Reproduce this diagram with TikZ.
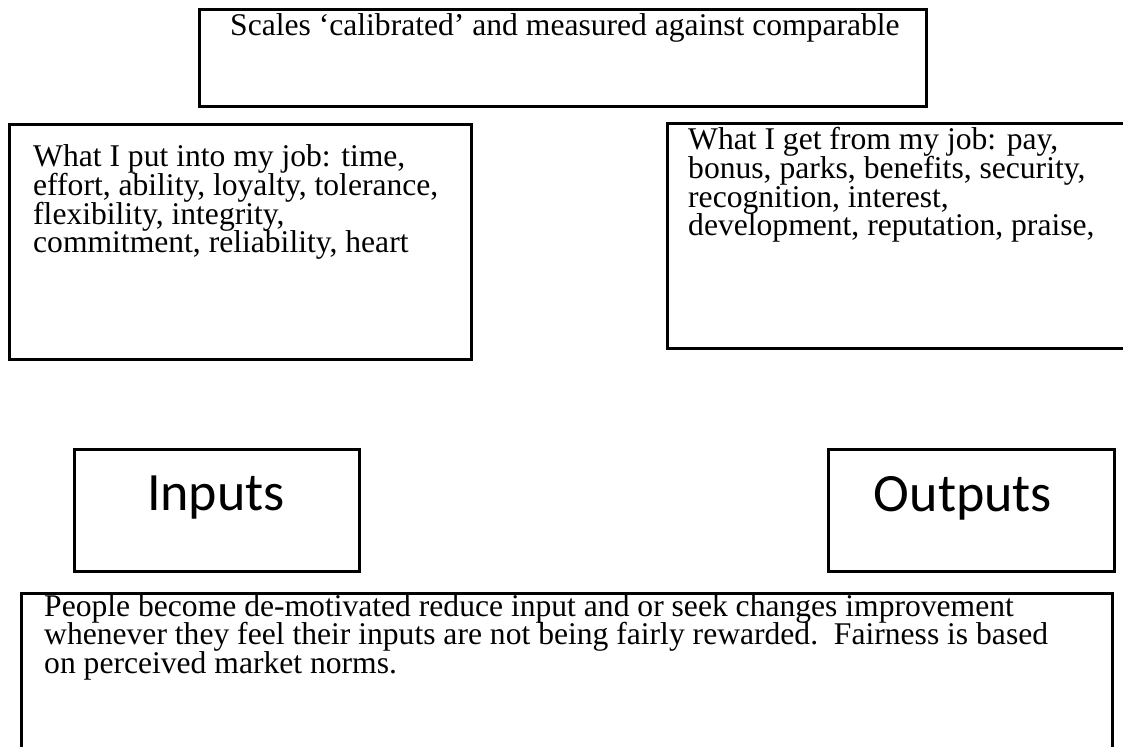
\documentclass[tikz,border=0pt]{standalone}
\usepackage{fontspec}
\setmainfont{Liberation Serif}[Ligatures=CommonOff]
\newfontfamily\calib{Carlito}
\begin{document}
\begin{tikzpicture}[x=1pt,y=-1pt,
  box/.style={draw=black, line width=2.6pt, inner sep=0pt, anchor=north west},
  ln/.style={anchor=base west, inner sep=0pt, font=\fontsize{31.6pt}{28.5pt}\selectfont},
  big/.style={anchor=base, inner sep=0pt, font=\calib\fontsize{54pt}{60pt}\selectfont}]
\useasboundingbox (0,0) rectangle (1123,746);
\clip (0,0) rectangle (1123,746);
% boxes
\node[box, minimum width=727pt, minimum height=97pt] (topbox) at (198,8) {};
\node[box, minimum width=462pt, minimum height=235pt] (inbox) at (8,123) {};
\node[box, minimum width=480pt, minimum height=225pt] (outbox) at (666,122) {};
\node[box, minimum width=285pt, minimum height=122pt] (inputs) at (73,448) {};
\node[box, minimum width=286pt, minimum height=122pt] (outputs) at (827,448) {};
\node[box, minimum width=1091pt, minimum height=200pt] (bottombox) at (20,592) {};
% top text
\node[ln] (t1) at (230,36) {Scales ‘calibrated’ and measured against comparable};
% left box text
\node[ln] (a1) at (33,167) {What I put into my job: time,};
\node[ln] (a2) at (33,195.5) {effort, ability, loyalty, tolerance,};
\node[ln] (a3) at (33,224) {flexibility, integrity,};
\node[ln] (a4) at (33,252.5) {commitment, reliability, heart};
% right box text
\node[ln] (b1) at (688,150) {What I get from my job: pay,};
\node[ln] (b2) at (688,178.5) {bonus, parks, benefits, security,};
\node[ln] (b3) at (688,207) {recognition, interest,};
\node[ln] (b4) at (688,235.5) {development, reputation, praise,};
% labels
\node[big] (inlabel) at (216,510) {Inputs};
\node[big] (outlabel) at (963,511) {Outputs};
% bottom text
\node[ln] (c1) at (44,616) {People become de-motivated reduce input and or seek changes improvement};
\node[ln] (c2) at (44,644.5) {whenever they feel their inputs are not being fairly rewarded.\ \ Fairness is based};
\node[ln] (c3) at (44,673) {on perceived market norms.};
\end{tikzpicture}
\end{document}
